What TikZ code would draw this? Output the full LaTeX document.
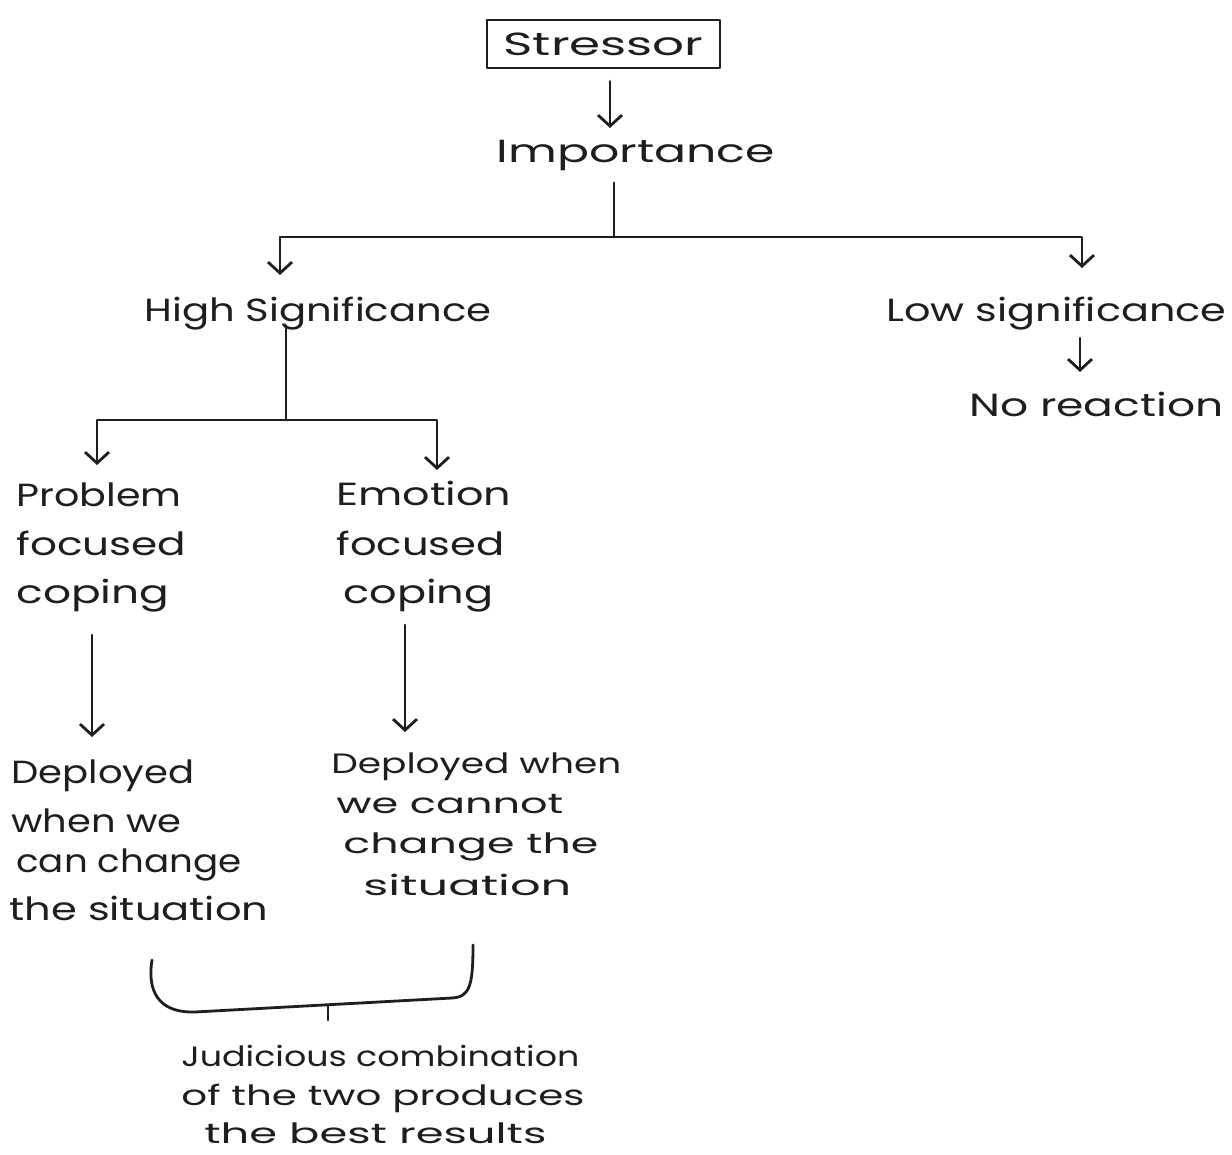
\documentclass[tikz,border=0pt]{standalone}
\usepackage{fontspec}
\setmainfont{Poppins}
\usetikzlibrary{arrows.meta}
% stretch a line of text horizontally to a given width (in pt)
\newcommand\hw[2]{\resizebox{#1pt}{\height}{#2}}
\definecolor{inkc}{HTML}{1E1E1E}
\begin{document}
\begin{tikzpicture}[x=1pt,y=-1pt,
  color=inkc,
  line width=2.8pt, line cap=round, line join=round,
  txt/.style={inner sep=0pt, text=inkc, font=\fontsize{32}{38}\selectfont},
  small/.style={txt, font=\fontsize{28}{34}\selectfont},
  arr/.style={-{Straight Barb[length=11pt,width=24pt,line width=2.8pt]}}]
\fill[white] (0,0) rectangle (1232,1155);
\useasboundingbox (0,0) rectangle (1232,1155);

% top of the tree
\node[draw=inkc, line width=2.8pt, minimum width=233pt, minimum height=48pt,
      inner sep=0pt, text=inkc, font=\fontsize{32}{38}\selectfont]
      (stressor) at (603.5,44) {\hw{200}{Stressor}};
\node[txt, anchor=base] (importance) at (636,163) {\hw{278}{Importance}};

\coordinate (impTip) at (610,128);
\draw[arr] (stressor.south -| impTip) ++(0,12) -- (impTip);

% first split
\coordinate (split1) at (614,237);
\coordinate (highTip) at (280,275);
\coordinate (lowTip) at (1082,268);
\draw (importance.south -| split1) ++(0,10) -- (split1);
\draw[arr] (split1) -| (highTip);
\draw[arr] (split1) -| (lowTip);

\node[txt, anchor=base west] (high) at (143,322) {\hw{347}{High Significance}};
\node[txt, anchor=base west] (low) at (885,322) {\hw{340}{Low significance}};
\node[txt, anchor=base west] (noreact) at (968,417) {\hw{254}{No reaction}};
\coordinate (noTip) at (1080,372);
\draw[arr] (noTip |- low.south) ++(0,6) -- (noTip);

% second split
\coordinate (split2) at (286,420);
\coordinate (probTip) at (97,465);
\coordinate (emoTip) at (437,470);
\draw (split2 |- high.south) ++(0,-6) -- (split2);
\draw[arr] (split2) -| (probTip);
\draw[arr] (split2) -| (emoTip);

% problem focused coping
\node[txt, anchor=base west] (prob1) at (15,506) {\hw{165}{Problem}};
\node[txt, anchor=base west] (prob2) at (15,555) {\hw{170}{focused}};
\node[txt, anchor=base west] (prob3) at (15,603) {\hw{153}{coping}};

% emotion focused coping
\node[txt, anchor=base west] (emo1) at (335,506) {\hw{175}{Emotion}};
\node[txt, anchor=base west] (emo2) at (335,555) {\hw{168}{focused}};
\node[txt, anchor=base west] (emo3) at (342,603) {\hw{150}{coping}};

\coordinate (probDepTip) at (92,737);
\coordinate (emoDepTip) at (405,732);
\draw[arr] (probDepTip |- prob3.south) ++(0,22) -- (probDepTip);
\draw[arr] (emoDepTip |- emo3.south) ++(0,12) -- (emoDepTip);

% when each is deployed
\node[txt, anchor=base west] (pd1) at (10,783) {\hw{183}{Deployed}};
\node[txt, anchor=base west] (pd2) at (10,832) {\hw{170}{when we}};
\node[txt, anchor=base west] (pd3) at (15,872) {\hw{225}{can change}};
\node[txt, anchor=base west] (pd4) at (8,920) {\hw{259}{the situation}};

\node[small, anchor=base west] (ed1) at (330,773) {\hw{290}{Deployed when}};
\node[small, anchor=base west] (ed2) at (335,813) {\hw{227}{we cannot}};
\node[small, anchor=base west] (ed3) at (342,853) {\hw{255}{change the}};
\node[small, anchor=base west] (ed4) at (362,895) {\hw{208}{situation}};

% brace joining both kinds of coping
\draw (152,960) .. controls (146,998) and (165,1013) .. (195,1012)
      -- (452,998) .. controls (470,997) and (473,985) .. (473,945);
\draw (328,1005) -- (328,1020);

\node[small, anchor=base west] (j1) at (180,1066) {\hw{398}{Judicious combination}};
\node[small, anchor=base west] (j2) at (180,1105) {\hw{403}{of the two produces}};
\node[small, anchor=base west] (j3) at (203,1143) {\hw{342}{the best results}};
\end{tikzpicture}
\end{document}
